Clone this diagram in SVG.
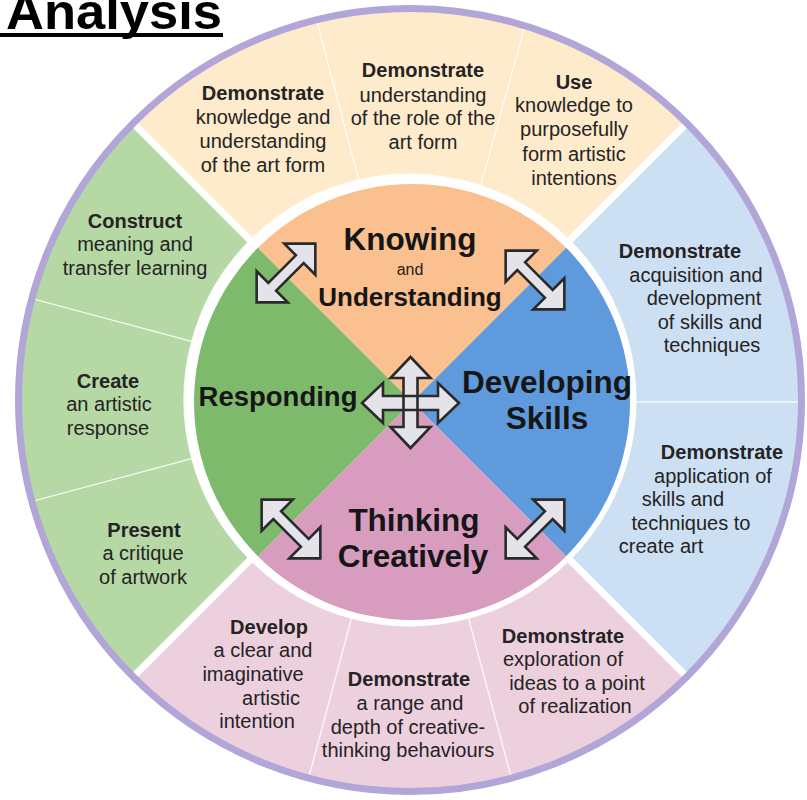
<svg xmlns="http://www.w3.org/2000/svg" xmlns:xlink="http://www.w3.org/1999/xlink" width="807" height="800" viewBox="0 0 807 800">
<style>
.t{font-family:"Liberation Sans",Arial,sans-serif;font-size:20px;fill:#252323;text-anchor:middle}
.b{font-weight:bold}
.c{font-family:"Liberation Sans",Arial,sans-serif;font-weight:bold;fill:#161616;text-anchor:middle}
.seg{stroke:#ffffff;stroke-width:1.1;stroke-opacity:0.85}
.ar{fill:#E5E3EA;stroke:none}
.ao{fill:none;stroke:#2a2a2a;stroke-width:2.6;stroke-linejoin:miter}
.sep{stroke:#ffffff;stroke-width:7}
</style>
<defs>
<path id="dbl" d="M41.5,0 L19.5,-22 L19.5,-5.5 L-19.5,-5.5 L-19.5,-22 L-41.5,0 L-19.5,22 L-19.5,5.5 L19.5,5.5 L19.5,22 Z"/>
<path id="hz" d="M48.5,0 L27.5,-20 L27.5,-7 L-27.5,-7 L-27.5,-20 L-48.5,0 L-27.5,20 L-27.5,7 L27.5,7 L27.5,20 Z"/>
<path id="vt" d="M0,-45.5 L-20,-24.5 L-7,-24.5 L-7,24.5 L-20,24.5 L0,45.5 L20,24.5 L7,24.5 L7,-24.5 L20,-24.5 Z"/>
</defs>
<rect width="807" height="800" fill="#ffffff"/>

<g id="title">
<text x="6" y="29" font-family="'Liberation Sans',Arial,sans-serif" font-weight="bold" font-size="50" textLength="216" lengthAdjust="spacingAndGlyphs" fill="#000">Analysis</text>
<rect x="0" y="33" width="223" height="4" fill="#000"/>
</g>

<!-- outer ring segments -->
<g id="k1">
<path class="seg" fill="#FDEBCB" d="M134.23,124.23 A390,390 0 0 1 317,21.5 L358.8,179.9 A226,226 0 0 0 250.19,240.19 Z"/>
<text class="t b" x="263" y="100">Demonstrate</text>
<text class="t" x="263" y="124">knowledge and</text>
<text class="t" x="263" y="148">understanding</text>
<text class="t" x="263" y="172">of the art form</text>
</g>
<g id="k3">
<path class="seg" fill="#FDEBCB" d="M524.6,27.2 A390,390 0 0 1 685.77,124.23 L569.81,240.19 A226,226 0 0 0 480.6,185.6 Z"/>
<text class="t b" x="574" y="89">Use</text>
<text class="t" x="574" y="112">knowledge to</text>
<text class="t" x="574" y="136">purposefully</text>
<text class="t" x="574" y="161">form artistic</text>
<text class="t" x="574" y="185">intentions</text>
</g>
<g id="k2">
<path class="seg" fill="#FDEBCB" d="M317,21.5 A390,390 0 0 1 524.6,27.2 L480.6,185.6 A226,226 0 0 0 358.8,179.9 Z"/>
<text class="t b" x="423" y="77">Demonstrate</text>
<text class="t" x="423" y="102">understanding</text>
<text class="t" x="423" y="125">of the role of the</text>
<text class="t" x="423" y="149">art form</text>
</g>
<g id="d1">
<path class="seg" fill="#CDE0F3" d="M685.77,124.23 A390,390 0 0 1 800,402 L636,402 A226,226 0 0 0 569.81,240.19 Z"/>
<text class="t b" x="680" y="258">Demonstrate</text>
<text class="t" x="696" y="282">acquisition and</text>
<text class="t" x="704" y="305">development</text>
<text class="t" x="710" y="329">of skills and</text>
<text class="t" x="712" y="352">techniques</text>
</g>
<g id="d2">
<path class="seg" fill="#CDE0F3" d="M800,402 A390,390 0 0 1 685.77,675.77 L569.81,559.81 A226,226 0 0 0 636,402 Z"/>
<text class="t b" x="722" y="459">Demonstrate</text>
<text class="t" x="713" y="483">application of</text>
<text class="t" x="683" y="506">skills and</text>
<text class="t" x="691" y="530">techniques to</text>
<text class="t" x="661" y="553">create art</text>
</g>
<g id="t1">
<path class="seg" fill="#ECD0DE" d="M685.77,675.77 A390,390 0 0 1 510.94,776.71 L468.49,618.30 A226,226 0 0 0 569.81,559.81 Z"/>
<text class="t b" x="563" y="643">Demonstrate</text>
<text class="t" x="563" y="666">exploration of</text>
<text class="t" x="577" y="690">ideas to a point</text>
<text class="t" x="575" y="713">of realization</text>
</g>
<g id="t3">
<path class="seg" fill="#ECD0DE" d="M309.06,776.71 A390,390 0 0 1 134.23,675.77 L250.19,559.81 A226,226 0 0 0 351.51,618.30 Z"/>
<text class="t b" x="269" y="634">Develop</text>
<text class="t" x="263" y="657">a clear and</text>
<text class="t" x="253" y="681">imaginative</text>
<text class="t" x="271" y="705">artistic</text>
<text class="t" x="257" y="728">intention</text>
</g>
<g id="t2">
<path class="seg" fill="#ECD0DE" d="M510.94,776.71 A390,390 0 0 1 309.06,776.71 L351.51,618.30 A226,226 0 0 0 468.49,618.30 Z"/>
<text class="t b" x="409" y="686">Demonstrate</text>
<text class="t" x="410" y="710">a range and</text>
<text class="t" x="408" y="734">depth of creative-</text>
<text class="t" x="408" y="757">thinking behaviours</text>
</g>
<g id="r1">
<path class="seg" fill="#B5D8A5" d="M134.23,675.77 A390,390 0 0 1 33.29,500.94 L191.70,458.49 A226,226 0 0 0 250.19,559.81 Z"/>
<text class="t b" x="144" y="537">Present</text>
<text class="t" x="143" y="560">a critique</text>
<text class="t" x="143" y="584">of artwork</text>
</g>
<g id="r3">
<path class="seg" fill="#B5D8A5" d="M33.29,299.06 A390,390 0 0 1 134.23,124.23 L250.19,240.19 A226,226 0 0 0 191.70,341.51 Z"/>
<text class="t b" x="135" y="228">Construct</text>
<text class="t" x="135" y="251">meaning and</text>
<text class="t" x="135" y="275">transfer learning</text>
</g>
<g id="r2">
<path class="seg" fill="#B5D8A5" d="M33.29,500.94 A390,390 0 0 1 33.29,299.06 L191.70,341.51 A226,226 0 0 0 191.70,458.49 Z"/>
<text class="t b" x="108" y="388">Create</text>
<text class="t" x="109" y="411">an artistic</text>
<text class="t" x="108" y="435">response</text>
</g>

<g id="separators">
<line class="sep" x1="250.19" y1="240.19" x2="134.23" y2="124.23"/>
<line class="sep" x1="569.81" y1="240.19" x2="685.77" y2="124.23"/>
<line class="sep" x1="569.81" y1="559.81" x2="685.77" y2="675.77"/>
<line class="sep" x1="250.19" y1="559.81" x2="134.23" y2="675.77"/>
<circle cx="410" cy="400" r="391.5" fill="none" stroke="#B2A5D7" stroke-width="7"/>
</g>

<!-- core -->
<g id="knowing">
<path fill="#FAC08F" d="M412,402 L257.85,247.85 A218,218 0 0 1 566.15,247.85 Z"/>
<text class="c" x="410" y="250" font-size="31.5">Knowing</text>
<text x="410" y="275" font-family="'Liberation Sans',Arial,sans-serif" font-size="16" fill="#222" text-anchor="middle">and</text>
<text class="c" x="410" y="306" font-size="26">Understanding</text>
</g>
<g id="developing">
<path fill="#5F9BDC" d="M412,402 L566.15,247.85 A218,218 0 0 1 566.15,556.15 Z"/>
<text class="c" x="547" y="393" font-size="31.5">Developing</text>
<text class="c" x="547" y="429" font-size="31.5">Skills</text>
</g>
<g id="thinking">
<path fill="#D89CBF" d="M412,402 L566.15,556.15 A218,218 0 0 1 257.85,556.15 Z"/>
<text class="c" x="414" y="531" font-size="31.5">Thinking</text>
<text class="c" x="413" y="567" font-size="31.5">Creatively</text>
</g>
<g id="responding">
<path fill="#7EBA6B" d="M412,402 L257.85,556.15 A218,218 0 0 1 257.85,247.85 Z"/>
<text class="c" x="278" y="406" font-size="27.5">Responding</text>
</g>

<g id="connectors">
<use href="#dbl" class="ar" transform="translate(286,273) rotate(-45)"/>
<use href="#dbl" class="ao" transform="translate(286,273) rotate(-45)"/>
<use href="#dbl" class="ar" transform="translate(535,280) rotate(45)"/>
<use href="#dbl" class="ao" transform="translate(535,280) rotate(45)"/>
<use href="#dbl" class="ar" transform="translate(291,529) rotate(45)"/>
<use href="#dbl" class="ao" transform="translate(291,529) rotate(45)"/>
<use href="#dbl" class="ar" transform="translate(535,529) rotate(-45)"/>
<use href="#dbl" class="ao" transform="translate(535,529) rotate(-45)"/>
<use href="#hz" class="ar" transform="translate(410.5,403)"/>
<use href="#vt" class="ar" transform="translate(410.5,402.5)"/>
<use href="#hz" class="ao" transform="translate(410.5,403)"/>
<use href="#vt" class="ao" transform="translate(410.5,402.5)"/>
</g>
</svg>
